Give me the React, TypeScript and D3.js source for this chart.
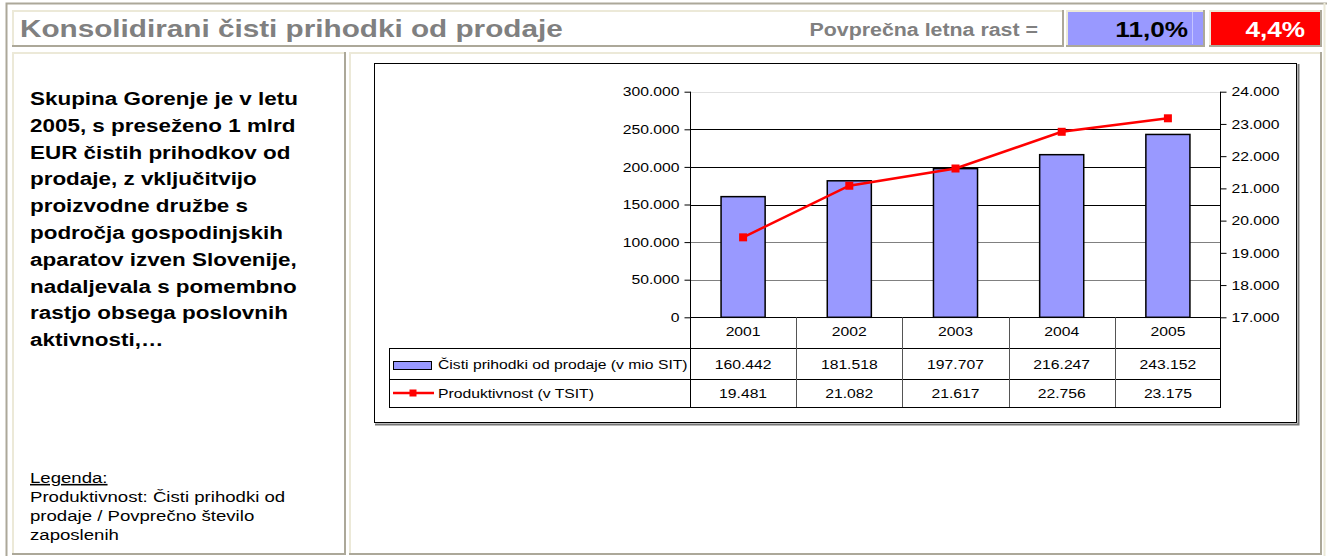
import { useEffect, useRef } from 'react'
import * as d3 from 'd3'

// data
const years = ['2001', '2002', '2003', '2004', '2005']
const revenue = [160442, 181518, 197707, 216247, 243152]
const productivity = [19481, 21082, 21617, 22756, 23175]
const leftTicks = [0, 50000, 100000, 150000, 200000, 250000, 300000]
const rightTicks = [17000, 18000, 19000, 20000, 21000, 22000, 23000, 24000]
const seriesNames = ['Čisti prihodki od prodaje (v mio SIT)', 'Produktivnost (v TSIT)']
const growthValues = ['11,0%', '4,4%']
const title = 'Konsolidirani čisti prihodki od prodaje'
const growthLabel = 'Povprečna letna rast ='
const noteLines = [
  'Skupina Gorenje je v letu',
  '2005, s preseženo 1 mlrd',
  'EUR čistih prihodkov od',
  'prodaje, z vključitvijo',
  'proizvodne družbe s',
  'področja gospodinjskih',
  'aparatov izven Slovenije,',
  'nadaljevala s pomembno',
  'rastjo obsega poslovnih',
  'aktivnosti,…',
]
const legendTitle = 'Legenda:'
const legendLines = ['Produktivnost: Čisti prihodki od', 'prodaje / Povprečno število', 'zaposlenih']

const W = 1327
const H = 556
const FONT = "Arial, 'Liberation Sans', sans-serif"
const GRAY = '#aca899'
const LIGHT = '#ece9d8'
const BLUE = '#9999ff'
const RED = '#ff0000'
// the reference screenshot is stretched sideways, so all text is widened
const SX = 1.2
const CHART_FS = 13.1

const sl = d3.formatLocale({ decimal: ',', thousands: '.', grouping: [3], currency: ['', ''] })
const fmt = sl.format(',d')

const at = (x: number, y: number) => `translate(${x},${y}) scale(${SX},1)`

function cell(g: any, x: number, y: number, w: number, h: number, fill: string) {
  g.append('rect').attr('x', x).attr('y', y).attr('width', w).attr('height', h).attr('fill', fill)
  // raised look: light top/left, gray bottom/right
  g.append('path').attr('d', `M${x + 1},${y + h} V${y + 1} H${x + w}`)
    .attr('fill', 'none').attr('stroke', LIGHT).attr('stroke-width', 2)
  g.append('path').attr('d', `M${x},${y + h - 1} H${x + w - 1} V${y}`)
    .attr('fill', 'none').attr('stroke', GRAY).attr('stroke-width', 2)
}

function App() {
  const ref = useRef<SVGSVGElement>(null)

  useEffect(() => {
    const svg = d3.select(ref.current)
    svg.selectAll('*').remove()

    // outer frame
    svg.append('path').attr('d', `M6.5,${H} V3.5 H${W}`)
      .attr('fill', 'none').attr('stroke', GRAY).attr('stroke-width', 2)
    svg.append('line').attr('x1', 1324.5).attr('x2', 1324.5).attr('y1', 3).attr('y2', H)
      .attr('stroke', LIGHT).attr('stroke-width', 2)

    const frame = svg.append('g')
    cell(frame, 12, 10, 1052, 37, '#fff')
    cell(frame, 1066, 10, 139, 37, BLUE)
    cell(frame, 1209, 10, 113, 37, RED)
    cell(frame, 12, 52, 334, 503, '#fff')
    cell(frame, 349, 52, 973, 503, '#fff')
    frame.append('line').attr('x1', 1192.5).attr('x2', 1192.5).attr('y1', 12).attr('y2', 44)
      .attr('stroke', '#c4c4ff')

    const txt = svg.append('g').attr('font-family', FONT)
    txt.append('text').attr('transform', at(20, 37)).attr('font-size', 24.75).attr('font-weight', 'bold')
      .attr('fill', '#808080').text(title)
    txt.append('text').attr('transform', at(1038, 36)).attr('font-size', 17.8).attr('font-weight', 'bold')
      .attr('text-anchor', 'end').attr('fill', '#808080').text(growthLabel)
    txt.append('text').attr('transform', at(1188, 37)).attr('font-size', 21.8).attr('font-weight', 'bold')
      .attr('text-anchor', 'end').attr('fill', '#000').text(growthValues[0])
    txt.append('text').attr('transform', at(1305, 37)).attr('font-size', 21.8).attr('font-weight', 'bold')
      .attr('text-anchor', 'end').attr('fill', '#fff').text(growthValues[1])

    txt.append('g').selectAll('text').data(noteLines).enter().append('text')
      .attr('transform', (d, i) => at(30, 105 + i * 26.8))
      .attr('font-size', 18.7).attr('font-weight', 'bold').attr('fill', '#000')
      .text(d => d)

    txt.append('text').attr('transform', at(30, 483)).attr('font-size', 15.5)
      .attr('text-decoration', 'underline').text(legendTitle)
    txt.append('g').selectAll('text').data(legendLines).enter().append('text')
      .attr('transform', (d, i) => at(30, 502 + i * 19))
      .attr('font-size', 15.5).text(d => d)

    // chart area
    const chart = svg.append('g').attr('font-family', FONT).attr('font-size', CHART_FS)
    chart.append('path').attr('d', 'M375,424.5 H1298.5 V64')
      .attr('fill', 'none').attr('stroke', '#777').attr('stroke-width', 2)
    chart.append('rect').attr('x', 374.5).attr('y', 63.5).attr('width', 922).attr('height', 359)
      .attr('fill', '#fff').attr('stroke', '#000')

    const x = d3.scaleBand().domain(years).range([690, 1221])
    const yL = d3.scaleLinear().domain([0, 300000]).range([317.3, 91.7])
    const yR = d3.scaleLinear().domain([17000, 24000]).range([317.3, 91.7])
    const tableTop = yL(0)
    const row1 = 348
    const row2 = 379
    const tableBottom = 407
    const tableLeft = 389.5

    chart.append('g').selectAll('line').data(leftTicks.filter(t => t > 0)).enter().append('line')
      .attr('x1', 690).attr('x2', 1221)
      .attr('y1', d => Math.round(yL(d)) + 0.5).attr('y2', d => Math.round(yL(d)) + 0.5)
      .attr('stroke', d => d === 300000 ? '#e0e0e0' : d >= 150000 ? '#000' : '#808080')

    const bw = x.bandwidth() * 0.415
    chart.append('g').selectAll('rect').data(revenue).enter().append('rect')
      .attr('x', (d, i) => x(years[i])! + (x.bandwidth() - bw) / 2)
      .attr('y', d => yL(d))
      .attr('width', bw)
      .attr('height', d => yL(0) - yL(d))
      .attr('fill', BLUE).attr('stroke', '#000').attr('stroke-width', 1.5)

    const axL = d3.axisLeft(yL).tickValues(leftTicks).tickFormat(d => fmt(d as number))
      .tickSize(6).tickSizeOuter(0).tickPadding(4)
    const gL = chart.append('g').attr('transform', 'translate(690.5,0)').call(axL)
    const axR = d3.axisRight(yR).tickValues(rightTicks).tickFormat(d => fmt(d as number))
      .tickSize(6).tickSizeOuter(0).tickPadding(5)
    const gR = chart.append('g').attr('transform', 'translate(1220.5,0)').call(axR)
    ;[gL, gR].forEach((g, k) => {
      g.select('.domain').remove()
      g.selectAll('text').attr('font-family', FONT).attr('font-size', CHART_FS).attr('fill', '#000')
        .attr('x', (k === 0 ? -11 : 11) / SX).attr('transform', `scale(${SX},1)`)
      g.selectAll('line').attr('stroke', '#000')
    })

    // axis lines run down through the data table
    chart.append('line').attr('x1', 690.5).attr('x2', 690.5).attr('y1', 91.7).attr('y2', tableBottom)
      .attr('stroke', '#000')
    chart.append('line').attr('x1', 1220.5).attr('x2', 1220.5).attr('y1', 91.7).attr('y2', tableBottom)
      .attr('stroke', '#000')
    chart.append('line').attr('x1', 690).attr('x2', 1221)
      .attr('y1', Math.round(tableTop) + 0.5).attr('y2', Math.round(tableTop) + 0.5).attr('stroke', '#000')

    // data table
    const table = chart.append('g')
    ;[row1, row2, tableBottom].forEach(yy => {
      table.append('line').attr('x1', tableLeft).attr('x2', 1221).attr('y1', yy + 0.5).attr('y2', yy + 0.5)
        .attr('stroke', '#000')
    })
    table.append('line').attr('x1', tableLeft).attr('x2', tableLeft).attr('y1', row1).attr('y2', tableBottom + 1)
      .attr('stroke', '#000')
    table.selectAll('line.sep').data(years.slice(1)).enter().append('line').attr('class', 'sep')
      .attr('x1', d => Math.round(x(d)!) + 0.5).attr('x2', d => Math.round(x(d)!) + 0.5)
      .attr('y1', tableTop).attr('y2', tableBottom)
      .attr('stroke', '#555')

    const cx = (i: number) => x(years[i])! + x.bandwidth() / 2
    table.selectAll('text.year').data(years).enter().append('text').attr('class', 'year')
      .attr('transform', (d, i) => at(cx(i), 336)).attr('text-anchor', 'middle').text(d => d)
    table.selectAll('text.rev').data(revenue).enter().append('text').attr('class', 'rev')
      .attr('transform', (d, i) => at(cx(i), 369)).attr('text-anchor', 'middle').text(d => fmt(d))
    table.selectAll('text.prod').data(productivity).enter().append('text').attr('class', 'prod')
      .attr('transform', (d, i) => at(cx(i), 398)).attr('text-anchor', 'middle').text(d => fmt(d))

    // legend keys
    table.append('rect').attr('x', 393.5).attr('y', 361.5).attr('width', 38).attr('height', 8)
      .attr('fill', BLUE).attr('stroke', '#000')
    table.append('line').attr('x1', 393).attr('x2', 434).attr('y1', 393).attr('y2', 393)
      .attr('stroke', RED).attr('stroke-width', 2.5)
    table.append('rect').attr('x', 409.5).attr('y', 389.5).attr('width', 7).attr('height', 7).attr('fill', RED)
    table.append('text').attr('transform', at(438, 369)).text(seriesNames[0])
    table.append('text').attr('transform', at(438, 398)).text(seriesNames[1])

    // productivity line on the right axis
    const line = d3.line<number>().x((d, i) => cx(i)).y(d => yR(d))
    chart.append('path').datum(productivity).attr('d', line)
      .attr('fill', 'none').attr('stroke', RED).attr('stroke-width', 2.5)
    chart.append('g').selectAll('rect').data(productivity).enter().append('rect')
      .attr('x', (d, i) => cx(i) - 4).attr('y', d => yR(d) - 4)
      .attr('width', 8).attr('height', 8).attr('fill', RED)
  }, [])

  return (
    <div style={{ position: 'absolute', left: 0, top: 0 }}>
      <svg ref={ref} width={W} height={H} style={{ display: 'block', background: '#fff' }} />
    </div>
  )
}

export default App
